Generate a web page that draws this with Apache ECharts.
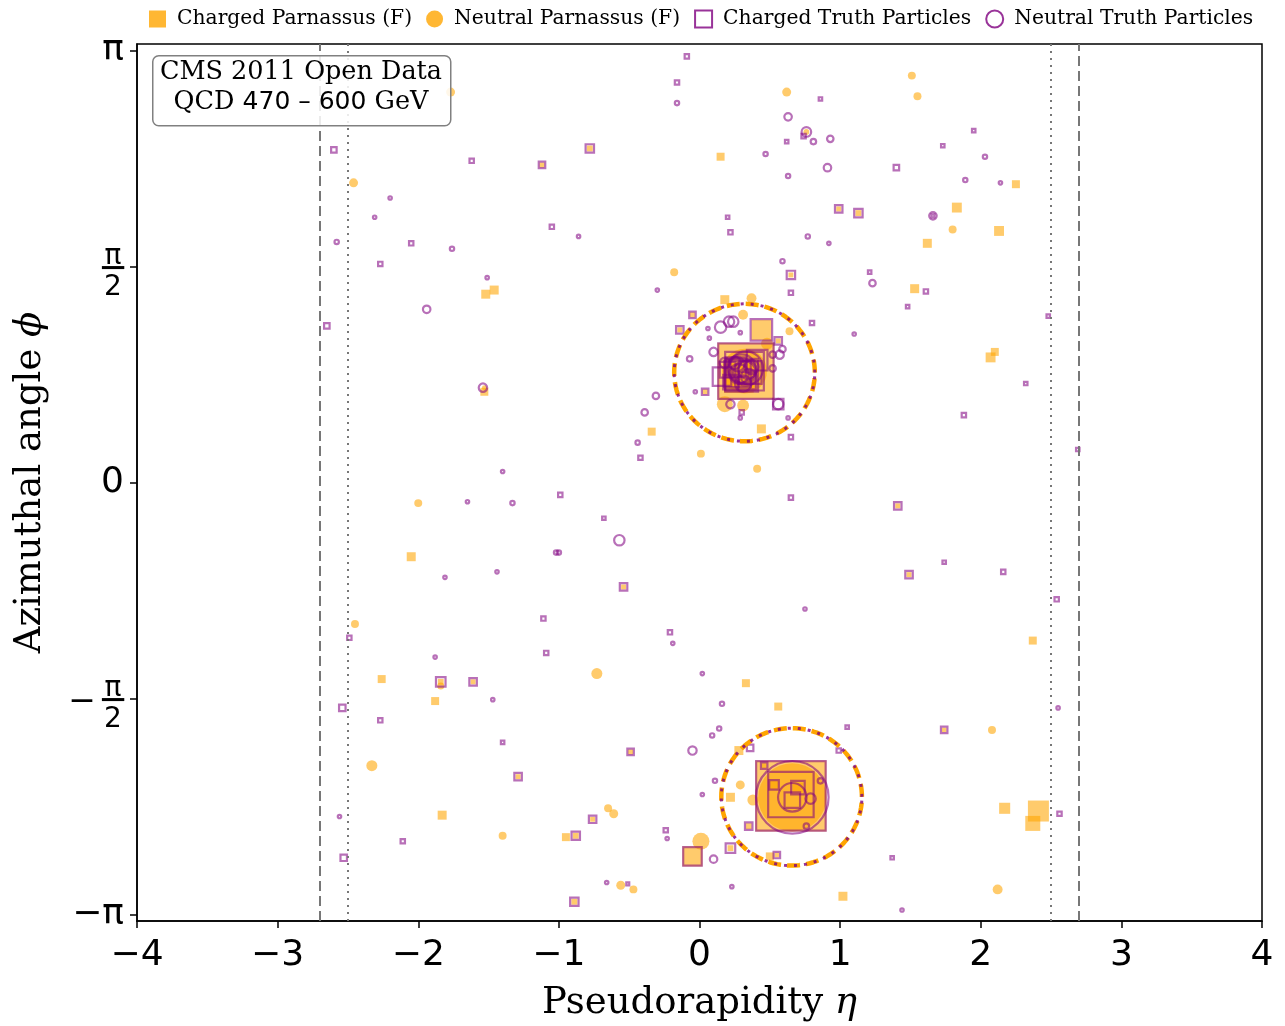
<!DOCTYPE html>
<html>
<head>
<meta charset="utf-8">
<script src="https://cdn.jsdelivr.net/npm/echarts@6/dist/echarts.min.js"></script>
<style>
  html, body { margin: 0; padding: 0; background: #fff; }
  #chart { width: 1285px; height: 1026px; }
</style>
</head>
<body>
<div id="chart"></div>
<script>
// each particle: [eta, phi, pT]
const chargedParnassus = [
  [0.15, 2.37, 1.3], [2.25, 2.17, 1.3], [0.99, 1.99, 0.5], [1.13, 1.96, 0.7], [1.83, 2.00, 2.0],
  [2.13, 1.83, 2.0], [1.62, 1.74, 1.65], [0.65, 1.51, 0.5], [1.53, 1.41, 1.65], [0.18, 1.33, 1.65],
  [-0.05, 1.22, 0.5], [-1.12, 2.31, 0.5], [-0.78, 2.43, 0.7], [-1.52, 1.37, 1.65], [-1.46, 1.40, 1.65],
  [-1.53, 0.66, 1.3], [-2.05, -0.54, 1.65], [-2.26, -1.43, 1.3], [-1.84, -1.45, 0.7], [-1.61, -1.45, 0.5],
  [-1.88, -1.59, 1.3], [-1.29, -2.14, 0.5], [-1.83, -2.42, 1.65], [-0.34, 0.37, 1.3], [-0.54, -0.76, 0.5],
  [1.41, -0.17, 0.5], [1.49, -0.67, 0.5], [0.33, -1.46, 1.3], [0.56, -1.63, 1.3], [-0.49, -1.96, 0.5],
  [0.28, -1.95, 1.65], [0.22, -2.29, 1.65], [-0.76, -2.45, 0.5], [-0.95, -2.58, 1.3], [-0.88, -2.57, 0.7],
  [-0.05, -2.72, 8.2], [0.22, -2.66, 0.7], [0.50, -2.72, 1.3], [0.55, -2.71, 0.4], [-0.89, -3.05, 0.7],
  [1.02, -3.01, 1.65], [0.65, -2.28, 103], [0.35, -2.50, 0.7], [2.10, 0.95, 1.3], [2.07, 0.91, 2.0],
  [1.74, -1.80, 0.4], [2.37, -1.15, 1.3], [2.17, -2.37, 2.5], [2.41, -2.39, 9.0], [2.37, -2.48, 4.6],
  [0.44, 0.39, 1.65], [-0.14, 1.11, 0.5], [0.44, 1.11, 8.2], [0.56, 1.03, 0.5], [0.04, 0.66, 0.5],
  [0.33, 0.81, 66], [0.28, 0.76, 18], [0.53, -2.20, 1.3], [0.70, -2.22, 2.0], [0.46, -2.06, 0.5]
];
const neutralParnassus = [
  [0.62, 2.84, 1.65], [1.51, 2.96, 1.3], [1.55, 2.81, 1.3], [0.76, 2.55, 0.7], [1.80, 1.84, 1.3],
  [-0.18, 1.53, 1.3], [0.37, 1.34, 2.0], [-1.77, 2.84, 1.65], [-2.46, 2.18, 1.65], [-1.53, 0.69, 0.5],
  [-2.00, -0.15, 1.3], [-2.45, -1.03, 1.3], [-1.84, -1.48, 1.0], [-2.33, -2.06, 2.5], [-1.40, -2.57, 1.3],
  [0.01, 0.21, 1.3], [0.41, 0.10, 1.3], [-0.73, -1.39, 2.5], [0.29, -2.20, 1.65], [0.38, -2.31, 2.5],
  [-0.65, -2.37, 1.3], [-0.61, -2.41, 1.65], [0.01, -2.61, 5.9], [-0.56, -2.93, 1.65], [-0.47, -2.96, 1.3],
  [2.08, -1.80, 1.3], [2.12, -2.96, 2.0], [0.31, 1.22, 2.0], [0.64, 1.10, 1.3], [0.48, 1.01, 2.9],
  [0.32, 0.81, 41], [0.18, 0.57, 5.2], [0.31, 0.56, 2.9], [0.66, -2.29, 95]
];
const chargedTruth = [
  [-0.09, 3.10, 0.7], [-0.16, 2.91, 0.7], [0.86, 2.79, 0.5], [0.74, 2.52, 0.7], [0.62, 2.48, 0.5],
  [1.40, 2.29, 1.0], [1.95, 2.56, 0.5], [1.73, 2.45, 0.5], [0.20, 1.93, 0.5], [0.22, 1.82, 0.7],
  [0.99, 1.99, 1.65], [1.13, 1.96, 2.0], [1.66, 1.94, 0.4], [0.65, 1.51, 2.0], [0.65, 1.38, 0.7],
  [1.21, 1.53, 0.5], [1.61, 1.39, 0.7], [1.48, 1.28, 0.5], [2.48, 1.21, 0.5], [-0.05, 1.22, 1.3],
  [0.80, 1.16, 0.7], [-2.60, 2.42, 1.0], [-1.62, 2.34, 0.7], [-1.12, 2.31, 1.3], [-0.78, 2.43, 2.0],
  [-2.05, 1.74, 0.7], [-1.05, 1.86, 0.7], [-2.27, 1.59, 0.7], [-2.65, 1.14, 1.0], [-1.11, -0.99, 0.7],
  [-2.49, -1.13, 0.7], [-1.09, -1.24, 0.7], [-1.84, -1.45, 2.5], [-1.61, -1.45, 1.65], [-2.54, -1.64, 1.3],
  [-2.27, -1.73, 0.7], [-1.40, -1.89, 0.5], [-1.29, -2.14, 1.65], [-2.11, -2.61, 0.7], [-2.53, -2.73, 1.3],
  [-0.42, 0.18, 0.7], [-0.99, -0.09, 0.7], [-0.68, -0.26, 0.5], [-0.54, -0.76, 1.65], [0.65, -0.11, 0.7],
  [1.41, -0.17, 1.65], [1.49, -0.67, 1.65], [-0.21, -1.09, 0.7], [-0.49, -1.96, 1.3], [1.05, -1.78, 0.5],
  [0.99, -1.95, 0.7], [0.36, -1.93, 1.3], [0.46, -2.06, 1.3], [0.35, -2.50, 1.65], [-0.76, -2.45, 1.65],
  [-0.88, -2.57, 2.0], [-0.24, -2.53, 0.7], [-0.05, -2.72, 8.2], [0.22, -2.66, 2.5], [0.55, -2.71, 1.3],
  [-0.51, -2.92, 0.4], [-0.89, -3.05, 2.0], [1.37, -2.73, 0.5], [0.65, -2.28, 103], [0.65, -2.27, 45],
  [0.53, -2.20, 2.5], [0.70, -2.22, 4.6], [0.66, -2.31, 5.9], [2.32, 0.72, 0.5], [1.88, 0.49, 0.7],
  [2.69, 0.24, 0.5], [1.74, -0.58, 0.5], [2.16, -0.65, 0.7], [2.54, -0.85, 0.7], [1.74, -1.80, 1.3],
  [2.56, -2.41, 0.7], [-0.14, 1.11, 1.65], [0.44, 1.11, 10.8], [0.56, 1.03, 1.65], [0.04, 0.66, 1.3],
  [0.33, 0.81, 66], [0.32, 0.81, 33], [0.27, 0.79, 16], [0.22, 0.73, 5.2], [0.56, 0.57, 2.9],
  [0.30, 0.51, 0.7], [0.65, 0.33, 0.7], [0.41, 0.89, 10], [0.16, 0.77, 8.2], [0.30, 0.78, 24],
  [0.36, 0.80, 12], [0.26, 0.84, 9], [0.34, 0.74, 7], [0.20, 0.82, 6]
];
const neutralTruth = [
  [-0.16, 2.76, 0.7], [0.63, 2.66, 1.65], [0.76, 2.55, 2.5], [0.81, 2.48, 1.0], [0.93, 2.50, 1.3],
  [0.47, 2.39, 0.7], [0.63, 2.23, 0.7], [0.91, 2.29, 1.65], [2.03, 2.37, 0.7], [1.89, 2.20, 0.7],
  [2.14, 2.18, 0.5], [0.77, 1.79, 0.7], [0.92, 1.74, 0.5], [1.66, 1.94, 1.65], [-0.30, 1.40, 0.5],
  [0.59, 1.61, 0.7], [1.23, 1.45, 1.3], [-2.20, 2.07, 0.5], [-2.31, 1.93, 0.5], [-2.58, 1.75, 0.7],
  [-1.76, 1.70, 0.7], [-0.86, 1.79, 0.5], [-1.51, 1.49, 0.5], [-1.94, 1.26, 1.65], [-1.54, 0.69, 2.0],
  [-1.40, 0.08, 0.5], [-1.65, -0.14, 0.5], [-1.33, -0.15, 0.7], [-1.02, -0.51, 0.7], [-1.81, -0.69, 0.5],
  [-1.44, -0.65, 0.5], [-1.88, -1.27, 0.5], [-1.47, -1.58, 0.5], [-2.56, -2.43, 0.5], [-0.44, 0.29, 0.7],
  [-0.57, -0.42, 2.9], [-1.00, -0.51, 0.7], [0.75, -0.92, 0.5], [-0.19, -1.17, 0.5], [0.02, -1.39, 0.5],
  [0.16, -1.61, 0.7], [0.14, -1.79, 0.7], [0.09, -1.84, 0.7], [-0.05, -1.95, 2.0], [0.11, -2.17, 0.7],
  [0.02, -2.27, 0.5], [-0.23, -2.59, 0.5], [0.10, -2.74, 1.65], [-0.66, -2.91, 0.5], [0.23, -2.94, 0.5],
  [1.44, -3.11, 0.5], [2.55, -1.64, 0.5], [1.10, 1.08, 0.5], [0.66, -2.29, 112], [0.66, -2.29, 18.4],
  [0.79, -2.30, 2.9], [0.86, -2.17, 1.0], [0.76, -2.50, 1.0], [0.15, 1.13, 3.4], [0.21, 1.17, 2.9],
  [0.24, 1.17, 2.9], [0.06, 1.12, 0.5], [0.07, 1.05, 0.5], [0.29, 1.09, 0.5], [0.59, 0.97, 1.3],
  [0.57, 0.93, 2.0], [0.52, 0.93, 1.3], [-0.07, 0.90, 1.0], [0.10, 0.95, 2.0], [0.52, 0.83, 1.3],
  [0.22, 0.57, 2.0], [-0.03, 0.66, 0.5], [-0.31, 0.63, 1.3], [-0.39, 0.51, 1.3], [0.56, 0.57, 2.9],
  [0.29, 0.47, 0.5], [0.63, 0.47, 0.5], [0.30, 0.83, 18], [0.34, 0.82, 8.2], [0.37, 0.84, 5.2],
  [0.25, 0.87, 4.0], [0.31, 0.72, 6.6], [0.18, 0.87, 2.9], [0.32, 0.80, 12], [0.28, 0.79, 9],
  [0.35, 0.77, 6], [0.27, 0.86, 5], [0.33, 0.83, 26]
];

// jets (anti-kt, R = 0.5)
const jetEta = [0.32, 0.655];
const jetPhi = [0.80, -2.287];
const jetR = 0.5;

// detector boundaries
const trackerEdge = [-2.5, 2.5];
const caloEdge = [-2.7, 2.7];

const xTicks = [-4, -3, -2, -1, 0, 1, 2, 3, 4];
const yTickValues = [-Math.PI, -Math.PI / 2, 0, Math.PI / 2, Math.PI];
const yTickLabels = ['−π', '−π/2', '0', 'π/2', 'π'];
const phiLim = 3.19;

const boxLines = ['CMS 2011 Open Data', 'QCD 470 – 600 GeV'];

const ORANGE = 'rgba(255,165,0,0.72)';
const PURPLE = 'rgba(128,0,128,0.7)';
const SERIF = '"DejaVu Serif", serif';
const SANS = '"DejaVu Sans", sans-serif';

function ptSize(v) { return 7 * Math.sqrt(v[2]); }

function circle(i) {
  const pts = [];
  for (let k = 0; k <= 120; k++) {
    const a = 2 * Math.PI * k / 120;
    pts.push([jetEta[i] + jetR * Math.cos(a), jetPhi[i] + jetR * Math.sin(a)]);
  }
  return pts;
}

const chart = echarts.init(document.getElementById('chart'));

const series = [
  {
    name: 'Charged Parnassus (F)', type: 'scatter', symbol: 'rect',
    data: chargedParnassus, symbolSize: ptSize, z: 2,
    itemStyle: { color: ORANGE }
  },
  {
    name: 'Neutral Parnassus (F)', type: 'scatter', symbol: 'circle',
    data: neutralParnassus, symbolSize: ptSize, z: 2,
    itemStyle: { color: ORANGE }
  },
  {
    name: 'Charged Truth Particles', type: 'scatter', symbol: 'rect',
    data: chargedTruth, symbolSize: v => ptSize(v) - 1.5, z: 3,
    itemStyle: { color: 'rgba(0,0,0,0)', borderColor: PURPLE, borderWidth: 2.2 }
  },
  {
    name: 'Neutral Truth Particles', type: 'scatter', symbol: 'circle',
    data: neutralTruth, symbolSize: v => ptSize(v) - 1.5, z: 3,
    itemStyle: { color: 'rgba(0,0,0,0)', borderColor: PURPLE, borderWidth: 2.2 }
  },
  {
    type: 'line', data: [], silent: true, z: 1,
    markLine: {
      silent: true, symbol: 'none', label: { show: false },
      lineStyle: { color: '#777', width: 2, type: [10, 5] },
      data: caloEdge.map(x => ({ xAxis: x }))
    }
  },
  {
    type: 'line', data: [], silent: true, z: 1,
    markLine: {
      silent: true, symbol: 'none', label: { show: false },
      lineStyle: { color: '#777', width: 2, type: [2, 5] },
      data: trackerEdge.map(x => ({ xAxis: x }))
    }
  }
];

jetEta.forEach((_, i) => {
  series.push({
    type: 'line', data: circle(i), showSymbol: false, silent: true, z: 4,
    lineStyle: { color: 'orange', width: 4.5, type: [13, 6] }
  });
  series.push({
    type: 'line', data: circle(i), showSymbol: false, silent: true, z: 5,
    lineStyle: { color: 'rgba(128,0,128,0.8)', width: 3, type: [3, 7] }
  });
});

// whole-number ticks (0, ±π) go on the axis; fractions are drawn next to their ticks below
function yLabel(value) {
  let idx = -1;
  yTickValues.forEach((t, i) => { if (Math.abs(t - value) < 1e-6) idx = i; });
  if (idx < 0 || yTickLabels[idx].indexOf('/') >= 0) return '';
  return yTickLabels[idx];
}

chart.setOption({
  animation: false,
  backgroundColor: '#fff',
  grid: {
    left: 137, right: 23, top: 44, bottom: 105, outerBoundsMode: 'none',
    show: true, borderColor: '#000', borderWidth: 1.5, backgroundColor: 'transparent'
  },
  legend: {
    top: 4, left: 144, itemGap: 14, itemWidth: 17, itemHeight: 17,
    textStyle: { fontFamily: SERIF, fontSize: 20.3, color: '#000', padding: [0, 0, 0, 6] },
    data: [
      { name: 'Charged Parnassus (F)', icon: 'rect', itemStyle: { color: 'orange', borderWidth: 0 } },
      { name: 'Neutral Parnassus (F)', icon: 'circle', itemStyle: { color: 'orange', borderWidth: 0 } },
      { name: 'Charged Truth Particles', icon: 'rect', itemStyle: { color: 'rgba(0,0,0,0)', borderColor: 'purple', borderWidth: 2 } },
      { name: 'Neutral Truth Particles', icon: 'circle', itemStyle: { color: 'rgba(0,0,0,0)', borderColor: 'purple', borderWidth: 2 } }
    ]
  },
  xAxis: {
    type: 'value', min: xTicks[0], max: xTicks[xTicks.length - 1], interval: 1,
    name: '{t|Pseudorapidity }{i|η}', nameLocation: 'middle', nameGap: 64,
    nameTextStyle: {
      rich: {
        t: { fontFamily: SERIF, fontSize: 37, color: '#000' },
        i: { fontFamily: SERIF, fontStyle: 'italic', fontSize: 37, color: '#000' }
      }
    },
    splitLine: { show: false },
    axisLine: { onZero: false, lineStyle: { color: '#000', width: 1.5 } },
    axisTick: { inside: false, length: 7, lineStyle: { color: '#000', width: 1.5 } },
    axisLabel: {
      margin: 17, fontFamily: SANS, fontSize: 36, color: '#000',
      formatter: v => String(v).replace('-', '−')
    }
  },
  yAxis: {
    type: 'value', min: -phiLim, max: phiLim,
    name: '{t|Azimuthal angle }{i|ϕ}', nameLocation: 'middle', nameGap: 88, nameRotate: 90,
    nameTextStyle: {
      rich: {
        t: { fontFamily: SERIF, fontSize: 37, color: '#000' },
        i: { fontFamily: SERIF, fontStyle: 'italic', fontSize: 37, color: '#000' }
      }
    },
    splitLine: { show: false },
    axisLine: { onZero: false, lineStyle: { color: '#000', width: 1.5 } },
    axisTick: { customValues: yTickValues, length: 7, lineStyle: { color: '#000', width: 1.5 } },
    axisLabel: {
      customValues: yTickValues, margin: 13, color: '#000',
      fontFamily: SANS, fontSize: 36, formatter: yLabel
    }
  },
  series: series
});

const graphics = [
  {
    type: 'rect', left: 152, top: 55, z: 10,
    shape: { width: 298, height: 70, r: 6 },
    style: { fill: 'rgba(255,255,255,0.85)', stroke: '#808080', lineWidth: 1.5 }
  },
  {
    type: 'text', x: 301, y: 72, z: 11,
    style: { text: boxLines[0], align: 'center', verticalAlign: 'middle', font: '25.5px ' + SERIF, fill: '#000' }
  },
  {
    type: 'text', x: 301, y: 102, z: 11,
    style: {
      text: '{s|QCD }{n|' + boxLines[1].slice(4, 13) + '}{s| GeV}',
      align: 'center', verticalAlign: 'middle',
      rich: {
        s: { fontFamily: SERIF, fontSize: 25.5, color: '#000' },
        n: { fontFamily: SANS, fontSize: 25, color: '#000' }
      }
    }
  }
];

// fraction tick labels (±π/2): numerator, bar, denominator and sign placed at each tick
const axisX = chart.convertToPixel({ xAxisIndex: 0 }, xTicks[0]);
const cx = axisX - 24;
function glyph(txt, x, y, size, align) {
  return {
    type: 'text', x: x, y: y, z: 11,
    style: { text: txt, align: align, verticalAlign: 'middle', font: size + 'px ' + SANS, fill: '#000' }
  };
}
yTickLabels.forEach((s, i) => {
  if (s.indexOf('/') < 0) return;
  const parts = s.replace('−', '').split('/');
  const py = chart.convertToPixel({ yAxisIndex: 0 }, yTickValues[i]);
  graphics.push(
    glyph(parts[0], cx, py - 10, 28, 'center'),
    glyph('─', cx, py + 4, 36, 'center'),
    glyph(parts[1], cx, py + 21, 28, 'center')
  );
  if (s[0] === '−') graphics.push(glyph('−', cx - 17, py + 4, 33, 'right'));
});

chart.setOption({ graphic: graphics });
</script>
</body>
</html>
